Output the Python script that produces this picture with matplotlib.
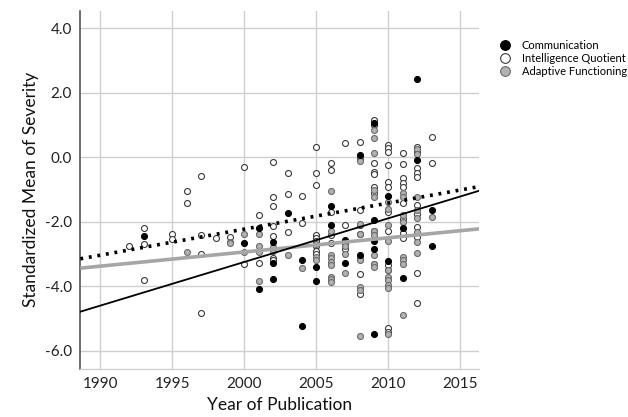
import matplotlib
matplotlib.use("Agg")
import matplotlib.pyplot as plt
from matplotlib.lines import Line2D
import numpy as np

plt.rcParams['font.family'] = ['Lato', 'DejaVu Sans']

# ---- data: (year, standardized mean) per series ----
comm_years = [1993, 2000, 2001, 2001, 2002, 2002, 2002, 2003, 2004, 2004, 2005, 2005,
              2006, 2006, 2007, 2007, 2008, 2008, 2009, 2009, 2009, 2009, 2009,
              2010, 2010, 2011, 2011, 2012, 2012, 2013, 2013]
comm_vals = [-2.44, -2.67, -2.20, -4.08, -2.62, -3.29, -3.77, -1.72, -3.18, -5.25, -3.41, -3.84,
             -1.51, -2.10, -2.57, -3.29, 0.08, -3.03, 1.05, -1.95, -2.60, -2.85, -5.48,
             -1.20, -3.22, -2.20, -3.75, 2.43, -0.07, -1.63, -2.75]

iq_years = [1992, 1993, 1993, 1993, 1995, 1995, 1996, 1996, 1997, 1997, 1997, 1997,
            1998, 1999, 2000, 2000, 2001, 2001,
            2002, 2002, 2002, 2002, 2002, 2002, 2002,
            2003, 2003, 2003, 2004, 2004,
            2005, 2005, 2005, 2005, 2005, 2005, 2005, 2005, 2005,
            2006, 2006, 2006, 2006, 2006,
            2007, 2007, 2007, 2007,
            2008, 2008, 2008, 2008, 2008, 2008, 2008,
            2009, 2009, 2009, 2009, 2009, 2009, 2009, 2009, 2009,
            2010, 2010, 2010, 2010, 2010, 2010, 2010, 2010, 2010, 2010, 2010, 2010,
            2011, 2011, 2011, 2011, 2011, 2011, 2011, 2011, 2011,
            2012, 2012, 2012, 2012, 2012, 2012, 2012, 2012, 2012, 2012, 2012,
            2013, 2013]
iq_vals = [-2.74, -2.20, -2.70, -3.80, -2.38, -2.53, -1.04, -1.42, -0.59, -2.41, -2.99, -4.83,
           -2.51, -2.46, -0.29, -3.31, -1.78, -3.29,
           -0.14, -1.24, -1.51, -2.13, -2.44, -3.13, -3.20,
           -0.48, -1.14, -2.33, -1.20, -2.05,
           0.33, -0.48, -0.86, -2.40, -2.50, -2.60, -2.75, -2.90, -3.00,
           -0.17, -0.39, -1.70, -2.40, -2.65,
           0.43, -2.10, -2.65, -2.85,
           0.48, -0.05, -1.63, -2.10, -2.38, -3.62, -4.24,
           1.16, 1.00, -0.19, -0.45, -0.52, -0.93, -1.12, -2.30, -3.30,
           0.38, 0.28, 0.17, -0.24, -0.76, -0.93, -1.70, -2.30, -3.35, -3.50, -5.30, -5.41,
           0.12, -0.21, -0.65, -0.79, -0.91, -1.41, -1.90, -2.35, -2.50,
           0.33, 0.17, -0.34, -0.50, -0.62, -1.48, -1.76, -2.15, -2.46, -3.60, -4.53,
           0.62, -0.19]

adapt_years = [1996, 1999, 1999, 2000, 2000, 2001, 2001, 2001, 2001, 2002, 2002, 2003, 2004,
               2005, 2005, 2005,
               2006, 2006, 2006, 2006, 2006, 2006, 2006, 2006, 2006,
               2007, 2007, 2007,
               2008, 2008, 2008, 2008, 2008, 2008, 2008, 2008, 2008,
               2009, 2009, 2009, 2009, 2009, 2009, 2009, 2009, 2009, 2009,
               2010, 2010, 2010, 2010, 2010, 2010, 2010, 2010, 2010, 2010,
               2011, 2011, 2011, 2011, 2011, 2011, 2011, 2011,
               2012, 2012, 2012, 2012, 2012, 2012, 2012, 2012,
               2013]
adapt_vals = [-2.95, -2.62, -2.67, -2.39, -2.94, -2.39, -2.74, -2.93, -3.83, -2.77, -2.90, -3.03, -3.44,
              -2.70, -3.10, -3.20,
              -1.04, -2.30, -3.03, -3.13, -3.24, -3.34, -3.70, -3.78, -3.86,
              -2.75, -3.00, -3.60,
              0.00, -0.10, -2.08, -2.38, -3.13, -3.20, -4.01, -4.12, -5.54,
              0.85, 0.59, 0.14, -1.01, -1.22, -2.30, -2.40, -3.03, -3.30, -3.40,
              -1.40, -1.60, -2.10, -2.60, -3.50, -3.70, -3.80, -3.95, -4.05, -5.49,
              -1.12, -1.22, -1.80, -2.00, -3.10, -3.20, -3.30, -4.89,
              0.25, 0.10, -1.22, -1.63, -1.89, -2.31, -2.62, -2.98,
              -1.86]

# fitted regression lines: (value at year 2000, slope per year)
fit_comm = (-3.247, 0.1354)
fit_iq = (-2.228, 0.0809)
fit_adapt = (-2.938, 0.0440)

labels = ["Communication", "Intelligence Quotient", "Adaptive Functioning"]
x_ticks = [1990, 1995, 2000, 2005, 2010, 2015]
y_ticks = [-6.0, -4.0, -2.0, 0.0, 2.0, 4.0]
xlim = (1988.6, 2016.3)
ylim = (-6.56, 4.54)

fig = plt.figure(figsize=(6.28, 4.17), dpi=100)
ax = fig.add_axes([80.3 / 628, 1 - 368.7 / 417, (479 - 80.3) / 628, (368.7 - 11) / 417])

ms = 4.3
ax.plot(iq_years, iq_vals, 'o', ms=ms, mfc='white', mec='#3a3a3a', mew=0.8, zorder=3)
ax.plot(adapt_years, adapt_vals, 'o', ms=ms, mfc='#b2b2b2', mec='#6a6a6a', mew=0.8, zorder=3)
ax.plot(comm_years, comm_vals, 'o', ms=ms, mfc='black', mec='black', mew=0.8, zorder=4)

xs = np.array(xlim)
def line(fit):
    return fit[0] + fit[1] * (xs - 2000)

ax.plot(xs, line(fit_adapt), color='#a6a6a6', lw=2.6, solid_capstyle='butt', zorder=5)
ax.plot(xs, line(fit_iq), color='black', lw=2.6, linestyle=(0, (0.8, 1.6)), zorder=5)
ax.plot(xs, line(fit_comm), color='black', lw=1.3, zorder=6)

ax.set_xlim(*xlim)
ax.set_ylim(*ylim)
ax.set_xticks(x_ticks)
ax.set_yticks(y_ticks)
ax.set_yticklabels([f"{v:.1f}" for v in y_ticks])
ax.tick_params(length=0, labelsize=11, pad=6, colors='#222222')
ax.grid(True, color='#cfcfcf', lw=1.0, zorder=0)
ax.set_axisbelow(True)
for s in ['top', 'right']:
    ax.spines[s].set_visible(False)
ax.spines['left'].set_color('#555555')
ax.spines['left'].set_linewidth(1.2)
ax.spines['bottom'].set_color('#cfcfcf')
ax.spines['bottom'].set_linewidth(1.0)

ax.set_xlabel("Year of Publication", fontsize=12.5, labelpad=4, color='#111111')
ax.set_ylabel("Standardized Mean of Severity", fontsize=12.5, labelpad=4, color='#111111')

handles = [
    Line2D([], [], ls='', marker='o', ms=7, mfc='black', mec='black', mew=0.8),
    Line2D([], [], ls='', marker='o', ms=7, mfc='white', mec='#3a3a3a', mew=0.8),
    Line2D([], [], ls='', marker='o', ms=7, mfc='#b2b2b2', mec='#6a6a6a', mew=0.8),
]
fig.legend(handles, labels, loc='upper left', bbox_to_anchor=(494 / 628, 1 - 34 / 417),
           frameon=False, fontsize=8, handlelength=1.0, handletextpad=1.0,
           labelspacing=0.2, borderpad=0.0)

fig.savefig("out.png", dpi=100)
